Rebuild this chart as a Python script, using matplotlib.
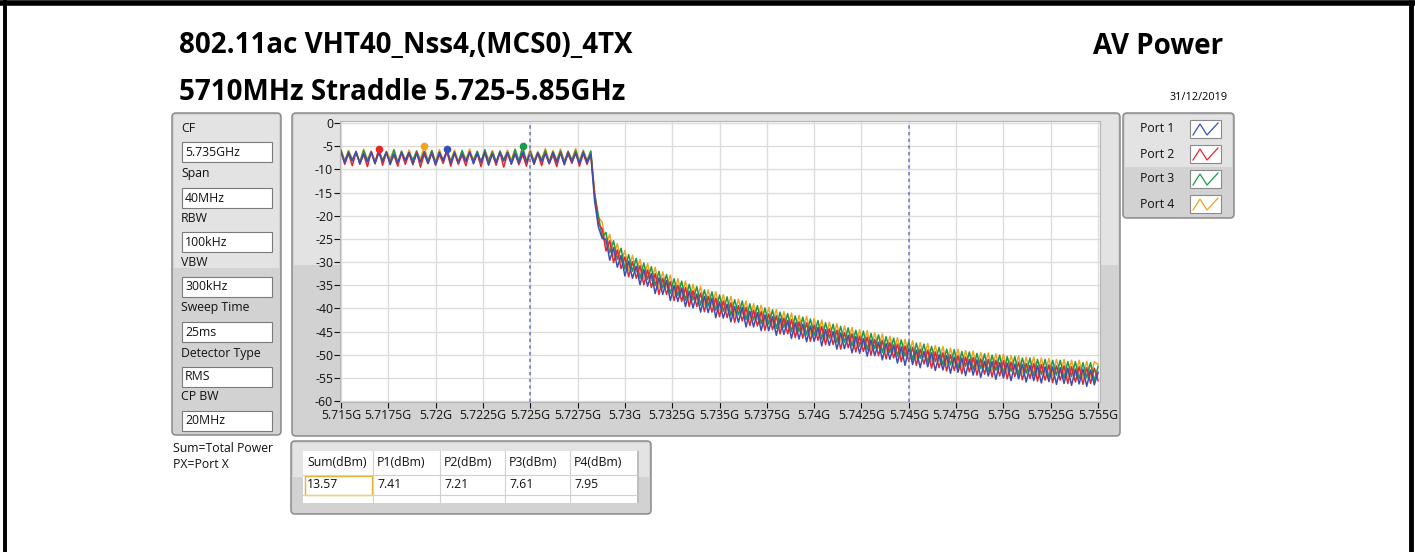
import numpy as np
import matplotlib
matplotlib.use('Agg')
import matplotlib.pyplot as plt
from matplotlib.patches import Rectangle, FancyBboxPatch

W, H = 1415, 552

title_1 = '802.11ac VHT40_Nss4,(MCS0)_4TX'
title_2 = '5710MHz Straddle 5.725-5.85GHz'
title_right = 'AV Power'
date_text = '31/12/2019'

param_names = ['CF', 'Span', 'RBW', 'VBW', 'Sweep Time', 'Detector Type', 'CP BW']
param_values = ['5.735GHz', '40MHz', '100kHz', '300kHz', '25ms', 'RMS', '20MHz']

port_names = ['Port 1', 'Port 2', 'Port 3', 'Port 4']
port_colors = ['#3a4fb2', '#e8262c', '#1c9a4c', '#f5a21e']

table_headers = ['Sum(dBm)', 'P1(dBm)', 'P2(dBm)', 'P3(dBm)', 'P4(dBm)']
table_values = ['13.57', '7.41', '7.21', '7.61', '7.95']
notes = ['Sum=Total Power', 'PX=Port X']

limit_lines = [5.725, 5.745]
x_ticks = [5.715, 5.7175, 5.72, 5.7225, 5.725, 5.7275, 5.73, 5.7325, 5.735,
           5.7375, 5.74, 5.7425, 5.745, 5.7475, 5.75, 5.7525, 5.755]
y_ticks = [0, -5, -10, -15, -20, -25, -30, -35, -40, -45, -50, -55, -60]

# trace levels in dBm, sampled every 0.2 MHz from 5.715 GHz to 5.755 GHz
port1 = [
    -6.2, -8.6, -6.4, -8.2, -6.1, -8.9, -6.6, -8.4, -6.3, -8.7,
    -6.5, -8.3, -6.2, -9.0, -6.7, -8.5, -6.4, -8.1, -6.3, -8.8,
    -6.6, -8.4, -6.2, -8.6, -6.5, -8.9, -6.3, -8.2, -5.7, -8.7,
    -6.4, -8.5, -6.6, -8.3, -6.2, -8.8, -6.5, -8.4, -6.3, -9.1,
    -6.6, -8.5, -6.4, -8.2, -6.3, -8.9, -6.7, -8.6, -6.2, -8.4,
    -6.5, -8.8, -6.4, -8.3, -6.6, -8.7, -6.3, -8.5, -6.5, -8.9,
    -6.2, -8.4, -6.6, -8.7, -6.3, -8.5, -6.8, -16.8, -22.4, -24.9,
    -25.1, -29.6, -26.9, -31.1, -28.6, -33.0, -29.8, -33.5, -30.9, -34.9,
    -31.6, -35.2, -32.5, -36.8, -33.4, -37.0, -34.0, -38.3, -35.1, -38.5,
    -35.6, -39.6, -36.3, -39.9, -36.9, -40.8, -37.4, -40.9, -37.8, -42.0,
    -38.6, -42.1, -39.1, -42.9, -39.6, -43.0, -39.8, -44.0, -40.6, -44.0,
    -40.9, -44.8, -41.4, -44.8, -41.8, -45.8, -42.2, -45.6, -42.6, -46.5,
    -43.1, -46.6, -43.4, -47.2, -43.8, -47.1, -44.1, -48.1, -44.6, -48.0,
    -45.0, -48.8, -45.3, -48.7, -45.8, -49.6, -46.1, -49.7, -46.5, -50.3,
    -46.8, -50.2, -47.3, -51.1, -47.6, -51.0, -47.9, -51.8, -48.3, -52.3,
    -48.6, -52.1, -49.0, -52.8, -49.3, -52.6, -49.6, -53.4, -50.0, -53.3,
    -50.2, -54.0, -50.5, -53.8, -50.7, -54.5, -51.0, -54.4, -51.1, -54.9,
    -51.4, -54.6, -51.5, -55.3, -51.7, -55.0, -51.8, -55.6, -52.0, -55.2,
    -52.1, -55.9, -52.3, -55.6, -52.4, -56.1, -52.6, -55.8, -52.6, -56.4,
    -52.8, -56.2, -52.9, -56.6, -53.1, -56.3, -53.1, -56.8, -53.3, -56.5,
    -53.8]
port2 = [
    -6.0, -8.9, -6.6, -9.2, -6.3, -8.7, -6.8, -9.4, -6.2, -8.8,
    -5.5, -9.1, -6.5, -8.6, -6.9, -9.3, -6.4, -8.9, -6.6, -9.0,
    -6.3, -9.5, -6.7, -8.8, -6.4, -9.1, -6.8, -8.7, -6.2, -9.3,
    -6.5, -8.9, -6.9, -9.2, -6.3, -8.6, -6.6, -9.4, -6.4, -8.8,
    -6.7, -9.1, -6.3, -9.5, -6.6, -8.7, -6.5, -9.0, -6.8, -9.3,
    -6.2, -8.9, -6.6, -9.2, -6.4, -8.8, -6.9, -9.4, -6.3, -9.0,
    -6.7, -8.7, -6.4, -9.3, -6.6, -8.9, -6.7, -15.5, -21.8, -22.8,
    -27.6, -25.4, -30.1, -27.4, -31.4, -28.9, -33.2, -29.9, -33.5, -30.8,
    -34.9, -31.7, -35.5, -32.5, -37.0, -33.5, -37.0, -34.2, -38.3, -35.0,
    -38.5, -35.5, -39.6, -36.2, -39.6, -36.7, -40.7, -37.4, -40.8, -37.8,
    -41.8, -38.4, -42.0, -38.8, -43.0, -39.4, -42.7, -39.8, -43.7, -40.4,
    -43.8, -40.7, -44.7, -41.2, -44.6, -41.6, -45.5, -42.1, -45.5, -42.4,
    -46.3, -42.9, -46.4, -43.1, -47.1, -43.6, -46.9, -43.9, -47.8, -44.4,
    -47.8, -44.7, -48.8, -45.2, -48.5, -45.5, -49.4, -46.0, -49.3, -46.2,
    -50.1, -46.7, -50.2, -46.9, -50.9, -47.4, -50.7, -47.7, -51.5, -48.1,
    -51.5, -48.4, -52.3, -48.8, -52.0, -49.0, -52.9, -49.4, -52.8, -49.6,
    -53.5, -50.0, -53.4, -50.2, -54.1, -50.5, -53.7, -50.6, -54.4, -50.9,
    -54.2, -51.0, -54.8, -51.2, -54.6, -51.3, -55.2, -51.6, -54.7, -51.6,
    -55.4, -51.9, -55.1, -51.9, -55.7, -52.1, -55.5, -52.2, -56.0, -52.4,
    -55.5, -52.4, -56.2, -52.6, -55.9, -52.6, -56.4, -52.8, -56.2, -52.9,
    -55.6]
port3 = [
    -5.9, -8.3, -6.1, -8.0, -6.4, -8.5, -5.9, -8.2, -6.2, -8.6,
    -6.0, -8.1, -6.3, -8.4, -5.8, -8.7, -6.1, -8.2, -6.4, -8.0,
    -6.0, -8.5, -6.2, -8.3, -5.9, -8.6, -6.3, -8.1, -6.0, -8.4,
    -6.2, -8.7, -5.9, -8.2, -6.4, -8.0, -6.1, -8.5, -5.8, -8.3,
    -6.2, -8.6, -6.0, -8.1, -6.3, -8.4, -5.7, -8.2, -5.0, -8.5,
    -6.1, -8.3, -6.4, -8.0, -5.9, -8.6, -6.2, -8.2, -6.0, -8.4,
    -6.3, -8.1, -5.9, -8.5, -6.1, -8.3, -6.0, -15.2, -20.0, -24.6,
    -23.6, -28.0, -25.4, -29.4, -27.0, -31.5, -28.4, -32.0, -29.2, -33.5,
    -30.2, -33.7, -31.0, -35.1, -32.0, -35.6, -32.7, -36.8, -33.6, -37.2,
    -34.1, -38.2, -34.8, -38.2, -35.3, -39.3, -36.0, -39.5, -36.4, -40.4,
    -37.1, -40.6, -37.5, -41.5, -38.1, -41.4, -38.4, -42.4, -39.0, -42.5,
    -39.4, -43.3, -39.9, -43.4, -40.3, -44.3, -40.8, -44.1, -41.1, -45.0,
    -41.6, -45.0, -41.9, -45.7, -42.3, -45.8, -42.6, -46.6, -43.1, -46.4,
    -43.4, -47.3, -43.9, -47.3, -44.2, -48.1, -44.7, -48.2, -44.9, -48.9,
    -45.4, -48.7, -45.7, -49.5, -46.1, -49.5, -46.4, -50.3, -46.8, -50.3,
    -47.1, -51.1, -47.5, -50.8, -47.7, -51.6, -48.2, -51.5, -48.4, -52.2,
    -48.8, -52.2, -48.9, -52.9, -49.3, -52.5, -49.4, -53.2, -49.7, -53.0,
    -49.8, -53.6, -50.1, -53.4, -50.1, -54.0, -50.4, -53.6, -50.4, -54.2,
    -50.7, -54.0, -50.7, -54.5, -51.0, -54.3, -51.0, -54.9, -51.2, -54.4,
    -51.2, -55.0, -51.5, -54.7, -51.5, -55.2, -51.7, -55.0, -51.7, -55.6,
    -52.5]
port4 = [
    -5.7, -8.1, -5.9, -7.8, -6.2, -8.3, -5.6, -7.9, -6.0, -8.2,
    -5.8, -8.0, -6.1, -7.7, -5.7, -8.4, -6.0, -7.9, -5.8, -8.2,
    -6.1, -7.8, -5.0, -8.1, -5.9, -8.3, -5.7, -7.9, -6.2, -8.0,
    -5.8, -8.2, -6.0, -7.8, -5.6, -8.1, -6.1, -8.4, -5.7, -7.9,
    -5.9, -8.2, -6.2, -7.8, -5.8, -8.0, -5.6, -8.3, -6.0, -7.9,
    -5.7, -8.1, -6.1, -7.8, -5.5, -8.2, -5.9, -8.0, -5.6, -8.3,
    -6.0, -7.9, -5.5, -8.1, -5.8, -8.0, -6.2, -15.0, -20.3, -21.4,
    -26.2, -24.0, -28.7, -26.0, -30.1, -27.5, -31.8, -28.5, -32.1, -29.4,
    -33.5, -30.3, -34.0, -31.1, -35.4, -32.1, -35.6, -32.8, -36.9, -33.6,
    -37.1, -34.1, -38.2, -34.8, -38.2, -35.3, -39.3, -36.0, -39.4, -36.4,
    -40.4, -37.0, -40.6, -37.4, -41.5, -38.0, -41.3, -38.4, -42.3, -39.0,
    -42.4, -39.3, -43.2, -39.8, -43.4, -40.2, -44.2, -40.7, -44.0, -41.0,
    -44.9, -41.5, -44.9, -41.7, -45.6, -42.2, -45.7, -42.5, -46.5, -43.0,
    -46.3, -43.3, -47.2, -43.8, -47.2, -44.1, -48.0, -44.6, -48.0, -44.8,
    -48.8, -45.3, -48.6, -45.5, -49.4, -46.0, -49.4, -46.3, -50.1, -46.7,
    -50.2, -47.0, -50.9, -47.4, -50.6, -47.6, -51.5, -48.0, -51.4, -48.2,
    -52.1, -48.6, -52.0, -48.8, -52.7, -49.1, -52.3, -49.2, -53.0, -49.5,
    -52.8, -49.6, -53.4, -49.8, -53.2, -49.9, -53.8, -50.2, -53.3, -50.2,
    -54.0, -50.5, -53.7, -50.5, -54.3, -50.7, -54.1, -50.8, -54.6, -51.0,
    -54.1, -51.0, -54.8, -51.2, -54.5, -51.2, -55.0, -51.4, -54.8, -51.5,
    -52.1]

traces = [port1, port2, port3, port4]
freq = np.linspace(5.715, 5.755, len(port1))

plt.rcParams['font.family'] = ['Open Sans', 'DejaVu Sans']
small = 8.8

fig = plt.figure(figsize=(W / 100, H / 100), dpi=100)
fig.patch.set_facecolor('white')


def rect(x0, y0, x1, y1):
    return [x0 / W, 1 - y1 / H, (x1 - x0) / W, (y1 - y0) / H]


bg = fig.add_axes([0, 0, 1, 1])
bg.set_xlim(0, W)
bg.set_ylim(H, 0)
bg.axis('off')

# black frame round the page
bg.plot([0, W], [2.5, 2.5], color='black', lw=4, solid_capstyle='butt')
bg.plot([4.5, 4.5], [0, H], color='black', lw=2.8, solid_capstyle='butt')
bg.plot([1410.5, 1410.5], [0, H], color='black', lw=3.5, solid_capstyle='butt')


def panel(x0, y0, x1, y1, split):
    bg.add_patch(FancyBboxPatch((x0, y0), x1 - x0, y1 - y0,
                                boxstyle='round,pad=0,rounding_size=4',
                                fc='#d2d2d2', ec='#8a8a8a', lw=1.1))
    bg.add_patch(Rectangle((x0 + 2, y0 + 2), x1 - x0 - 4, split - y0 - 2,
                           fc='#e3e3e3', ec='none'))


# titles
bg.text(179, 46, title_1, fontsize=20, fontweight='bold', va='center', ha='left')
bg.text(179, 93, title_2, fontsize=20, fontweight='bold', va='center', ha='left')
bg.text(1223, 46, title_right, fontsize=20, fontweight='bold', va='center', ha='right')
bg.text(1228, 97, date_text, fontsize=7.8, va='center', ha='right')

# parameter panel
panel(172, 113, 281, 435, 268)
label_y = [128, 174, 218, 263, 308, 353, 397]
for name, val, y in zip(param_names, param_values, label_y):
    bg.text(181, y, name, fontsize=small, va='center', ha='left', color='#111111')
    bg.add_patch(Rectangle((182, y + 14), 90, 20, fc='white', ec='#7a7a7a', lw=0.8))
    bg.text(185, y + 24, val, fontsize=small, va='center', ha='left', color='#111111')

for i, note in enumerate(notes):
    bg.text(173, 449 + 16 * i, note, fontsize=small, va='center', ha='left', color='#111111')

# spectrum panel
panel(292, 113, 1120, 436, 265)

# legend panel
panel(1123, 113, 1234, 218, 167)
for i, (name, color) in enumerate(zip(port_names, port_colors)):
    yc = 129 + 25 * i
    bg.text(1140, yc, name, fontsize=small, va='center', ha='left', color='#111111')
    bg.add_patch(Rectangle((1190, yc - 9), 31, 18, fc='white', ec='#8a8a8a', lw=0.8))
    bg.plot([1193, 1200, 1207, 1218], [yc + 6, yc - 5, yc + 6, yc - 6], color=color, lw=0.9)

# result table panel
panel(291, 441, 651, 514, 477)
cols = [303, 373, 440, 505, 570, 637]
bg.add_patch(Rectangle((303, 451), 334, 52, fc='white', ec='none'))
bg.add_patch(Rectangle((637, 451), 2, 52, fc='#bdbdbd', ec='none'))
for x in cols[1:-1]:
    bg.plot([x, x], [451, 503], color='#d0d0d0', lw=0.8)
bg.plot([303, 637], [475, 475], color='#d0d0d0', lw=0.8)
bg.plot([303, 637], [495, 495], color='#d0d0d0', lw=0.8)
for x, head, val in zip(cols[:-1], table_headers, table_values):
    bg.text(x + 4, 463, head, fontsize=small, va='center', ha='left', color='#111111')
    bg.text(x + 4, 485, val, fontsize=small, va='center', ha='left', color='#111111')
bg.add_patch(Rectangle((305, 476), 67, 19, fc='none', ec='#e8b530', lw=1.0))

# spectrum plot
ax = fig.add_axes(rect(340, 121, 1100, 402))
ax.set_facecolor('white')
for k in [3, 2, 1, 0]:
    ax.plot(freq, traces[k], color=port_colors[k], lw=1.1)
for k in range(4):
    j = int(np.argmax(traces[k]))
    ax.plot(freq[j], traces[k][j], 'o', color=port_colors[k], ms=5.5, mec='none')
for f in limit_lines:
    ax.axvline(f, color='#6f80c4', lw=1.2, ls=(0, (2, 2)))

ax.set_xlim(5.71495, 5.7551)
ax.set_ylim(-60.2, 0.45)
ax.set_xticks(x_ticks)
ax.set_xticklabels([f'{v:g}G' for v in x_ticks])
ax.set_yticks(y_ticks)
ax.set_yticklabels([str(v) for v in y_ticks])
ax.grid(True, color='#dcdcdc', lw=1.0)
ax.set_axisbelow(True)
ax.tick_params(axis='both', labelsize=small, colors='#111111', length=4, width=0.8, pad=1)
for s in ax.spines.values():
    s.set_color('#b5b5b5')
    s.set_linewidth(0.8)

fig.savefig('out.png', dpi=100)
